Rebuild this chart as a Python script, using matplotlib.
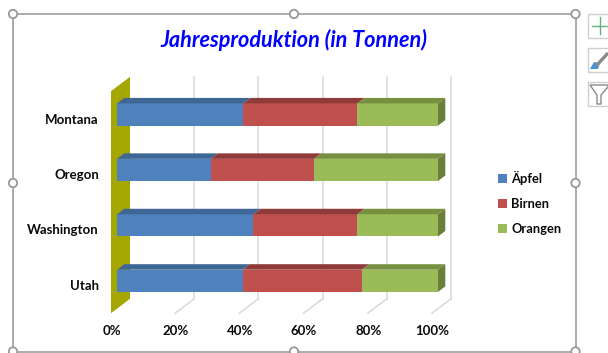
"""Excel style pseudo-3D stacked 100% bar chart with its selection frame."""
import matplotlib

matplotlib.use("Agg")
import matplotlib.pyplot as plt
from matplotlib.patches import Circle, Polygon, Rectangle

plt.rcParams["font.family"] = ["Lato", "DejaVu Sans"]

W, H = 608, 353

STATES = ["Utah", "Washington", "Oregon", "Montana"]
SERIES = ["Äpfel", "Birnen", "Orangen"]
APFEL = [39.1, 42.5, 29.2, 39.3]
BIRNEN = [37.2, 32.4, 32.2, 35.6]
ORANGEN = [23.7, 25.1, 38.6, 25.1]
PCT_TICKS = [0, 20, 40, 60, 80, 100]
TITLE = "Jahresproduktion (in Tonnen)"

FRONT = ["#4F81BD", "#C0504D", "#9BBB59"]
TOP = ["#3F6796", "#8F3B39", "#76903F"]
SIDE = "#6B7F3A"
WALL = "#A6A600"
GRID = "#D9D9D9"
FRAME = "#ABABAB"
INK = "#0A0A0A"

BAR_H = 0.40
PX_X = 321 / 100  # px per percent
PX_Y = 55.4  # px per category
DEPTH_X, DEPTH_Y = 7.3 / PX_X, 5.5 / PX_Y
FLOOR_X, FLOOR_Y = -6 / PX_X, -4.7 / PX_Y  # front of the floor vs. bar front
BACK_X, BACK_Y = 13 / PX_X, 9.7 / PX_Y  # back wall vs. bar front


def px_axes(fig, x0, y0, x1, y1):
    return fig.add_axes([x0 / W, 1 - y1 / H, (x1 - x0) / W, (y1 - y0) / H])


fig = plt.figure(figsize=(W / 100, H / 100), dpi=100)
fig.patch.set_facecolor("white")

# chrome layer in pixel coordinates
ui = fig.add_axes([0, 0, 1, 1])
ui.set_xlim(0, W)
ui.set_ylim(H, 0)
ui.axis("off")
ui.add_patch(Rectangle((13, 14), 562.5, 337.5, fc="white", ec=FRAME, lw=1.4))
for hx in (13, 294, 575.5):
    for hy in (14, 183, 351.5):
        if hx == 294 and hy == 183:
            continue
        ui.add_patch(Circle((hx, hy), 4.2, fc="white", ec="#999999", lw=1.3, zorder=5, clip_on=False))
for by in (14, 48, 82):
    ui.add_patch(Rectangle((588, by), 24, 24, fc="white", ec="#CFCFCF", lw=1, clip_on=True))
ui.plot([592, 608], [25.5, 25.5], color="#5FB37C", lw=1)
ui.plot([600, 600], [17, 34], color="#5FB37C", lw=1)
ui.plot([596, 608], [66, 53], color="#8A8A8A", lw=2.4, solid_capstyle="butt")
ui.add_patch(Polygon([[590, 69], [594, 62], [600, 63], [598, 69]], fc="#4A90D9", ec="none"))
ui.add_patch(Polygon([[590, 85], [608, 85], [608, 87], [601, 95], [601, 104], [597, 104], [597, 95]],
                     fc="white", ec="#8A8A8A", lw=1))

# plot layer: x in percent, y in category slots, front plane of the bars
ax = px_axes(fig, 117, 86.8, 438, 308.5)
ax.set_xlim(0, 100)
ax.set_ylim(-0.5, 3.5)
ax.axis("off")
ax.patch.set_alpha(0)

low, high = -0.5 + FLOOR_Y, 3.5
for v in PCT_TICKS[1:]:
    ax.plot([v + BACK_X, v + BACK_X], [low + BACK_Y - FLOOR_Y, high + 0.18],
            color=GRID, lw=1.1, zorder=1, clip_on=False)
    ax.plot([v + FLOOR_X, v + BACK_X], [low, low + BACK_Y - FLOOR_Y],
            color=GRID, lw=1.1, zorder=1, clip_on=False)

ax.add_patch(Polygon([[FLOOR_X, low], [BACK_X, low + BACK_Y - FLOOR_Y],
                      [BACK_X, high + 0.18], [FLOOR_X, high + 0.18 - BACK_Y + FLOOR_Y]],
                     fc=WALL, ec="none", zorder=1, clip_on=False))

positions = list(range(len(STATES)))
left = [0.0] * len(STATES)
for name, vals, front, top in zip(SERIES, [APFEL, BIRNEN, ORANGEN], FRONT, TOP):
    ax.barh(positions, vals, height=BAR_H, left=left, color=front, label=name, zorder=3)
    for p, v, l in zip(positions, vals, left):
        ax.add_patch(Polygon([[l, p + BAR_H / 2], [l + v, p + BAR_H / 2],
                              [l + v + DEPTH_X, p + BAR_H / 2 + DEPTH_Y],
                              [l + DEPTH_X, p + BAR_H / 2 + DEPTH_Y]],
                             fc=top, ec="none", zorder=3, clip_on=False))
    left = [l + v for l, v in zip(left, vals)]

for p, total in zip(positions, left):
    ax.add_patch(Polygon([[total, p - BAR_H / 2], [total, p + BAR_H / 2],
                          [total + DEPTH_X, p + BAR_H / 2 + DEPTH_Y],
                          [total + DEPTH_X, p - BAR_H / 2 + DEPTH_Y]],
                         fc=SIDE, ec="none", zorder=3, clip_on=False))

for p, state in zip(positions, STATES):
    ax.annotate(state, (0, p), xytext=(-18, -5), textcoords="offset pixels",
                ha="right", va="center", fontsize=9.5, fontweight="bold", color=INK)
for v in PCT_TICKS:
    ax.annotate(f"{v}%", (v, -0.5), xytext=(-5.5, -22.7), textcoords="offset pixels",
                ha="center", va="center", fontsize=9.5, fontweight="bold", color=INK)

ui.text(294, 39.5, TITLE, ha="center", va="center", fontsize=15.6,
        fontweight="bold", fontstyle="italic", color="#0000FF")

ax.legend(loc="center left", bbox_to_anchor=(486.5 / W, 1 - 203 / H), bbox_transform=fig.transFigure,
          frameon=False, prop={"weight": "bold", "size": 9.3},
          handlelength=0.72, handleheight=0.72, handletextpad=0.28, labelspacing=1.02,
          labelcolor=INK)

fig.savefig("out.png", dpi=100, facecolor="white")
